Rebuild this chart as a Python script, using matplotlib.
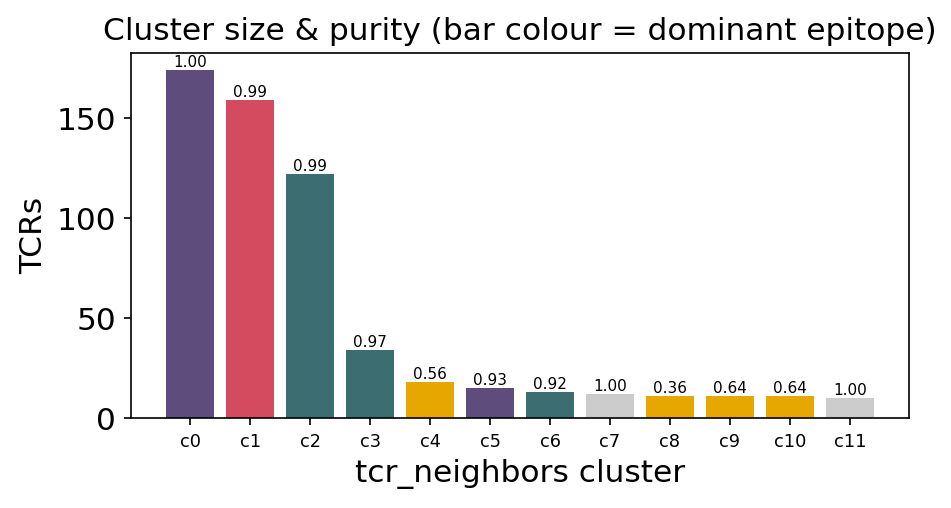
import matplotlib
matplotlib.use("Agg")
import matplotlib.pyplot as plt

clusters = ["c0", "c1", "c2", "c3", "c4", "c5", "c6", "c7", "c8", "c9", "c10", "c11"]
sizes = [174, 159, 122, 34, 18, 15, 13, 12, 11, 11, 11, 10]
purity = [1.00, 0.99, 0.99, 0.97, 0.56, 0.93, 0.92, 1.00, 0.36, 0.64, 0.64, 1.00]
epitope = ["A", "B", "C", "C", "D", "A", "C", "none", "D", "D", "D", "none"]

palette = {
    "A": "#5e4c7d",
    "B": "#d44a5e",
    "C": "#3c6e71",
    "D": "#e6a800",
    "none": "#cccccc",
}

fig = plt.figure(figsize=(6.34, 3.387), dpi=150)
ax = fig.add_axes([0.1377, 0.177, 0.8183, 0.7187])

bars = ax.bar(clusters, sizes, color=[palette[e] for e in epitope])
for bar, p in zip(bars, purity):
    ax.text(bar.get_x() + bar.get_width() / 2, bar.get_height(), f"{p:.2f}",
            ha="center", va="bottom", fontsize=7.3)

ax.set_title("Cluster size & purity (bar colour = dominant epitope)", fontsize=15)
ax.set_xlabel("tcr_neighbors cluster", fontsize=15)
ax.set_ylabel("TCRs", fontsize=15)
ax.tick_params(axis="x", labelsize=8.5)
ax.tick_params(axis="y", labelsize=15)

fig.savefig("out.png", dpi=150)
